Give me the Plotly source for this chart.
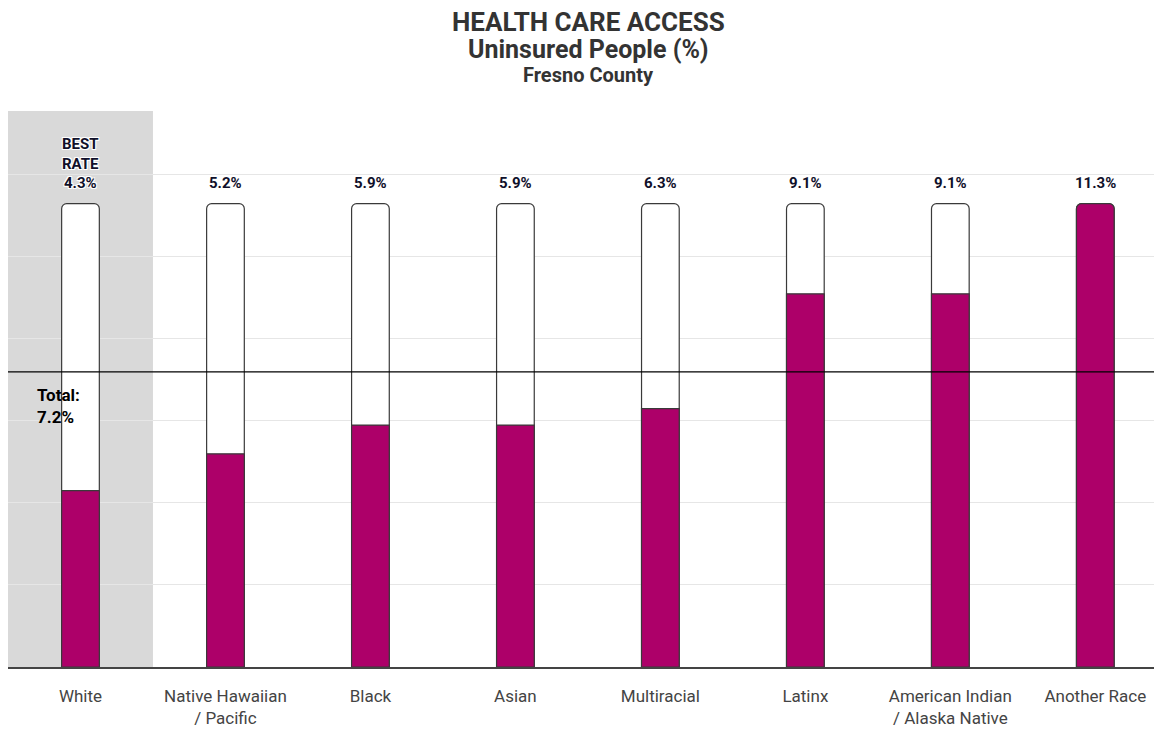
import plotly.graph_objects as go

categories = ["White", "Native Hawaiian<br>/ Pacific", "Black", "Asian", "Multiracial",
              "Latinx", "American Indian<br>/ Alaska Native", "Another Race"]
values = [4.3, 5.2, 5.9, 5.9, 6.3, 9.1, 9.1, 11.3]
total_value = 7.2
title_lines = ["HEALTH CARE ACCESS", "Uninsured People (%)", "Fresno County"]

vmax = max(values)
vmin = min(values)
best_idx = values.index(vmin)
ymax = vmax * 1.2
FONT = "Roboto"
MAGENTA = "#ad0069"
OUTLINE = "#3a3a3a"
BW = 0.26

fig = go.Figure()

# background (full-height) bars
fig.add_trace(go.Bar(
    x=categories, y=[vmax] * len(values), width=BW,
    marker=dict(color="white", line=dict(color=OUTLINE, width=1.2), cornerradius=5),
    hoverinfo="skip", showlegend=False))

# value bars (non-max, square tops)
xs = [c for c, v in zip(categories, values) if v < vmax]
ys = [v for v in values if v < vmax]
fig.add_trace(go.Bar(
    x=xs, y=ys, width=BW,
    marker=dict(color=MAGENTA, line=dict(color=OUTLINE, width=1.2)),
    showlegend=False))
# value bars at max (rounded top)
xs2 = [c for c, v in zip(categories, values) if v >= vmax]
ys2 = [v for v in values if v >= vmax]
fig.add_trace(go.Bar(
    x=xs2, y=ys2, width=BW,
    marker=dict(color=MAGENTA, line=dict(color=OUTLINE, width=1.2), cornerradius=5),
    showlegend=False))

shadow = "1px 1px 0px white, -1px -1px 0px white, 1px -1px 0px white, -1px 1px 0px white"
annotations = []
for i, (c, v) in enumerate(zip(categories, values)):
    txt = f"{v:.1f}%"
    if i == best_idx:
        txt = "BEST<br>RATE<br>" + txt
    annotations.append(dict(
        x=c, y=vmax, xref="x", yref="y", yanchor="bottom", yshift=10,
        text=f"<b>{txt}</b>", showarrow=False,
        font=dict(family=FONT, size=15, color="#10102a", shadow=shadow)))

annotations.append(dict(
    x=0.023, xref="paper", xanchor="left", y=total_value, yref="y", yanchor="top", yshift=-11,
    text=f"<b>Total:<br>{total_value}%</b>", showarrow=False, align="left",
    font=dict(family=FONT, size=17, color="black")))

# titles
title_specs = [(title_lines[0], 26, 1.160), (title_lines[1], 25, 1.1115), (title_lines[2], 20, 1.0647)]
for t, s, yy in title_specs:
    annotations.append(dict(
        x=0.503, xref="paper", xanchor="center", y=yy, yref="paper", yanchor="middle",
        text=f"<b>{t}</b>", showarrow=False, font=dict(family=FONT, size=s, color="#333333")))

fig.update_layout(
    width=1154, height=722,
    margin=dict(l=0, r=0, t=103, b=63),
    barmode="overlay",
    plot_bgcolor="white", paper_bgcolor="white",
    annotations=annotations,
    shapes=[
        dict(type="rect", xref="x", yref="paper", x0=-0.5, x1=0.5, y0=0, y1=1,
             fillcolor="#d9d9d9", line=dict(width=0), layer="below"),
        dict(type="line", xref="paper", yref="y", x0=0, x1=1, y0=total_value, y1=total_value,
             line=dict(color="black", width=1.2), layer="above"),
    ],
    xaxis=dict(range=[-0.5, 7.46], showgrid=False, showline=True, linecolor="#444444", linewidth=1.5,
               ticks="outside", ticklen=13, tickcolor="rgba(0,0,0,0)", automargin=False,
               tickfont=dict(family=FONT, size=17, color="#444444"), fixedrange=True),
    yaxis=dict(range=[0, ymax], dtick=2, showgrid=True, gridcolor="#e6e6e6", gridwidth=1,
               showticklabels=False, zeroline=False, fixedrange=True, automargin=False),
    showlegend=False,
)

fig.write_html("out.html")
